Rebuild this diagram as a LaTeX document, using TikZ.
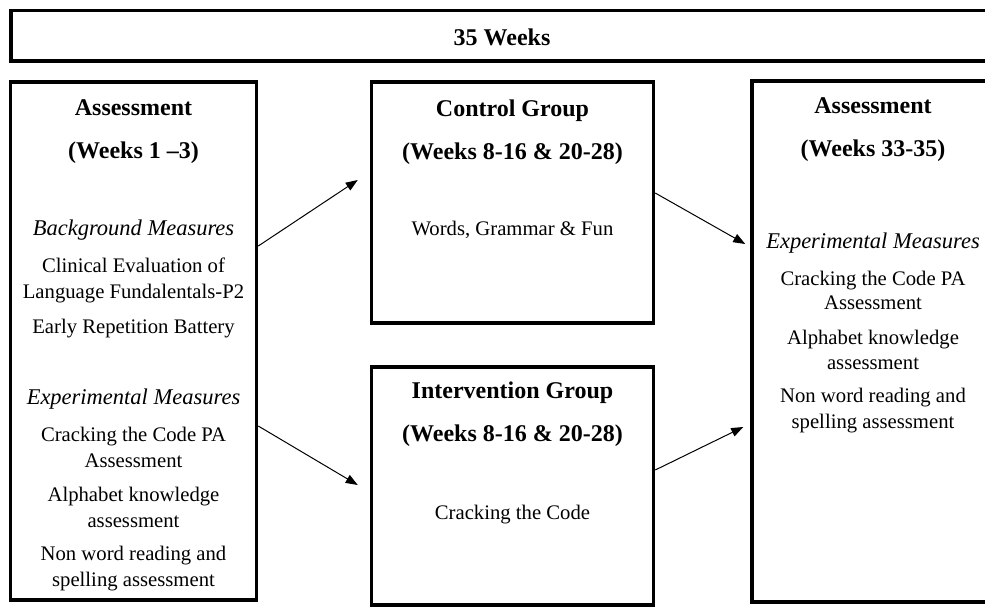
\documentclass[tikz,border=0pt]{standalone}
\usepackage{fontspec}
\setmainfont{Liberation Serif}
\usetikzlibrary{arrows.meta, positioning}

\newcommand{\headfont}{\fontsize{24}{43}\selectfont\bfseries}
\newcommand{\bodyfont}{\fontsize{20.7}{26}\selectfont}
\newcommand{\labelfont}{\fontsize{22.5}{26}\selectfont\itshape}

\begin{document}
\begin{tikzpicture}[
    x=1pt, y=-1pt,
    frame/.style={rectangle, draw=black, line width=3.5pt, inner sep=0pt},
    head/.style={anchor=base, align=center, inner sep=0pt, font=\headfont},
    body/.style={anchor=base, align=center, inner sep=0pt, font=\bodyfont},
    measure/.style={anchor=base, align=center, inner sep=0pt, font=\labelfont},
    arrow/.style={-{Triangle[length=12pt,width=9pt]}, line width=1pt}
]
\useasboundingbox (0,0) rectangle (985,606);

% Top bar
\node[frame, minimum width=982pt, minimum height=50.5pt] (weeks) at (502, 35.5) {};
\node[head] (weeksText) at (502, 45) {35 Weeks};

% === Boxes ===
\node[frame, minimum width=246pt, minimum height=518pt] (pre) at (133.5, 341) {};
\node[frame, minimum width=282pt, minimum height=241pt] (ctrl) at (512.5, 202.5) {};
\node[frame, minimum width=282pt, minimum height=238pt] (interv) at (512.5, 486) {};
\node[frame, minimum width=242pt, minimum height=521pt] (post) at (873, 341.5) {};

% === Pre assessment (left) ===
% (multi-line nodes: base = last line)
\node[head] (preHead) at (133.5, 158) {Assessment\\(Weeks 1 --3)};
\node[measure] (preBgLabel) at (133.5, 235) {Background Measures};
\node[body] (preBgList) at (133.5, 333) {Clinical Evaluation of\\Language Fundalentals-P2\\[9pt]Early Repetition Battery};
\node[measure] (preExpLabel) at (133.5, 404) {Experimental Measures};
\node[body] (preExpList) at (133.5, 586) {Cracking the Code PA\\Assessment\\[8pt]Alphabet knowledge\\assessment\\[7pt]Non word reading and\\spelling assessment};

% === Groups (center) ===
\node[head] (ctrlHead) at (512.5, 159) {Control Group\\(Weeks 8-16 \& 20-28)};
\node[body] (ctrlBody) at (512.5, 235) {Words, Grammar \& Fun};
\node[head] (intervHead) at (512.5, 441) {Intervention Group\\(Weeks 8-16 \& 20-28)};
\node[body] (intervBody) at (512.5, 519) {Cracking the Code};

% === Post assessment (right) ===
\node[head] (postHead) at (873, 156) {Assessment\\(Weeks 33-35)};
\node[measure] (postExpLabel) at (873, 248) {Experimental Measures};
\node[body] (postExpList) at (873, 428) {Cracking the Code PA\\[-2pt]Assessment\\[9pt]Alphabet knowledge\\[-1pt]assessment\\[7pt]Non word reading and\\spelling assessment};

% === Arrows ===
\draw[arrow] ([yshift=95pt]pre.east) -- ([xshift=-12pt, yshift=22.5pt]ctrl.west);
\draw[arrow] ([yshift=-85pt]pre.east) -- ([xshift=-12pt, yshift=1pt]interv.west);
\draw[arrow] ([yshift=9.5pt]ctrl.east) -- ([xshift=-5pt, yshift=97.5pt]post.west);
\draw[arrow] ([yshift=16pt]interv.east) -- ([xshift=-7pt, yshift=-85.5pt]post.west);

\end{tikzpicture}
\end{document}
